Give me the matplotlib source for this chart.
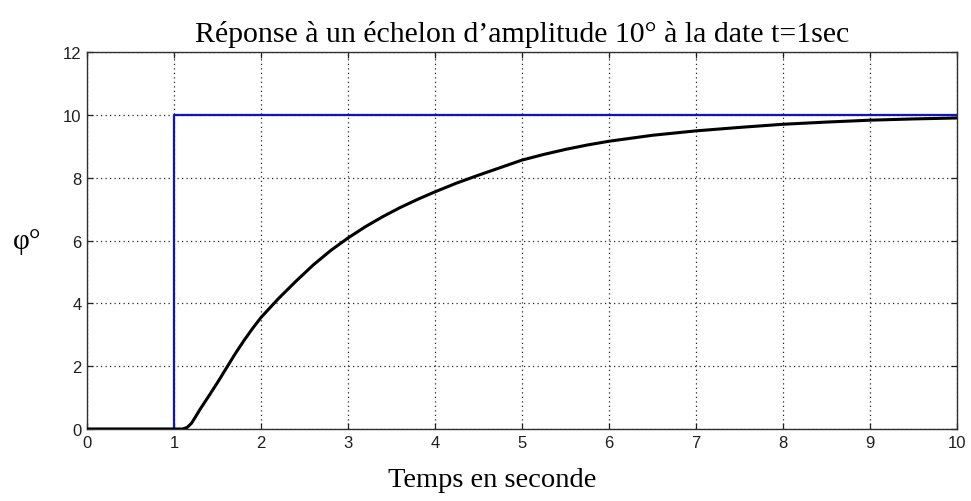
import numpy as np
import matplotlib
matplotlib.use("Agg")
import matplotlib.pyplot as plt

# step input (deg)
step_t = [0, 1, 1, 10]
step_y = [0, 0, 10, 10]

# response (deg)
resp_t = [0, 1.0, 1.1, 1.15, 1.2, 1.25, 1.3, 1.4, 1.5, 1.6, 1.7, 1.8, 1.9,
          2.0, 2.2, 2.4, 2.6, 2.8, 3.0, 3.2, 3.4, 3.6, 3.8, 4.0, 4.25, 4.5,
          4.75, 5.0, 5.25, 5.5, 5.75, 6.0, 6.5, 7.0, 7.5, 8.0, 8.5, 9.0, 9.5,
          10.0]
resp_y = [0, 0, 0.0, 0.05, 0.18, 0.4, 0.63, 1.05, 1.48, 1.93, 2.38, 2.8, 3.19,
          3.55, 4.15, 4.7, 5.22, 5.68, 6.08, 6.44, 6.76, 7.05, 7.31, 7.55, 7.83,
          8.08, 8.32, 8.56, 8.74, 8.9, 9.04, 9.16, 9.35, 9.49, 9.6, 9.7, 9.77,
          9.83, 9.87, 9.9]

xticks = list(range(0, 11))
yticks = [0, 2, 4, 6, 8, 10, 12]

fig = plt.figure(figsize=(9.71, 5.02), dpi=100)
ax = fig.add_axes([0.0896, 0.1434, 0.8960, 0.7510])

ax.plot(step_t, step_y, color="#1010d0", lw=1.6, zorder=3)
ax.plot(resp_t, resp_y, color="black", lw=2.2, zorder=4)

ax.set_xlim(0, 10)
ax.set_ylim(0, 12)
ax.set_xticks(xticks)
ax.set_yticks(yticks)
ax.grid(True, color="black", lw=0.9, linestyle=(0, (1, 2.6)), alpha=0.85)
ax.tick_params(direction="in", length=4, width=0.9, top=True, right=True,
               labelsize=12, pad=4, colors="#202020")
for lab in ax.get_xticklabels() + ax.get_yticklabels():
    lab.set_fontfamily("Liberation Sans")
for sp in ax.spines.values():
    sp.set_color("#303030")
    sp.set_linewidth(1.0)

ax.set_title("Réponse à un échelon d’amplitude 10° à la date t=1sec",
             family="Liberation Serif", fontsize=21.5, pad=8)
ax.set_xlabel("Temps en seconde", family="Liberation Serif", fontsize=20.5,
              va="center")
ax.xaxis.set_label_coords(0.4655, -0.135)
ax.set_ylabel("φ°", family="Liberation Serif", fontsize=21, rotation=0,
              labelpad=26, va="center")

fig.savefig("out.png", dpi=100)
